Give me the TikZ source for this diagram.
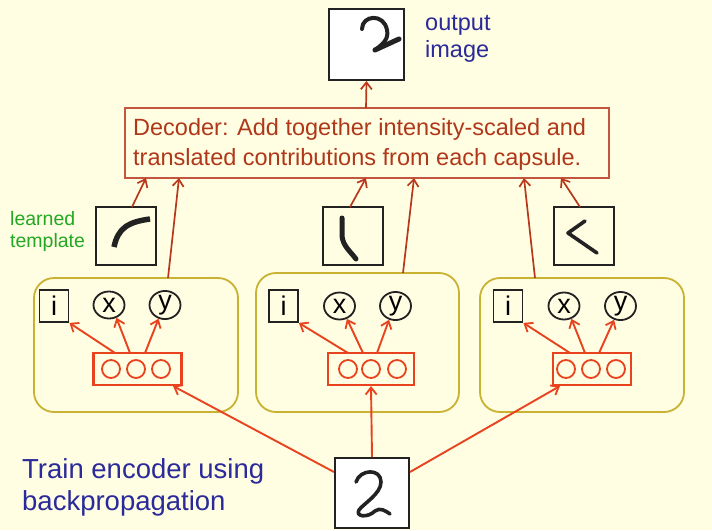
\documentclass[tikz,border=0pt]{standalone}
\usepackage{fontspec}
\setmainfont{Liberation Sans}
\usetikzlibrary{arrows.meta,shapes.geometric}
\definecolor{bg}{HTML}{FFFDE2}
\definecolor{darkred}{HTML}{B8381C}
\definecolor{brightred}{HTML}{E8431E}
\definecolor{gold}{HTML}{C9B232}
\definecolor{txtred}{HTML}{B0381A}
\definecolor{txtblue}{HTML}{2A2A9A}
\definecolor{txtgreen}{HTML}{22A822}
\definecolor{ink}{HTML}{222222}
\begin{document}
\begin{tikzpicture}[x=1pt,y=-1pt,
  outbox/.style={draw=ink,line width=2pt,fill=white,minimum width=75pt,minimum height=71pt,inner sep=0pt},
  tmplbox/.style={draw=ink,line width=2pt,minimum width=60pt,minimum height=58pt,inner sep=0pt},
  decbox/.style={draw=darkred!85,line width=1.2pt,minimum width=484pt,minimum height=70pt,inner sep=0pt},
  capsule/.style={draw=gold,line width=1.8pt,rounded corners=20pt,minimum width=204pt,minimum height=134pt,inner sep=0pt},
  ibox/.style={draw=ink,line width=1.8pt,minimum width=29pt,minimum height=32pt,inner sep=0pt,font=\fontsize{27}{27}\selectfont},
  var/.style={draw=ink,ellipse,line width=1.8pt,minimum width=31pt,minimum height=27pt,inner sep=0pt,font=\fontsize{27}{27}\selectfont},
  unitbox/.style={draw=brightred,line width=2.2pt,minimum width=86pt,minimum height=32pt,inner sep=0pt},
  unit/.style={draw=brightred,circle,line width=1.8pt,minimum size=18pt,inner sep=0pt},
  inarrow/.style={-{Straight Barb[length=7pt,width=11pt,line width=1.8pt]},brightred,line width=1.9pt},
  decarrow/.style={-{Straight Barb[length=7pt,width=11pt,line width=1.7pt]},darkred,line width=1.7pt},
  glyph/.style={ink,line width=4.5pt,line cap=round,line join=round},
  lbl/.style={inner sep=0pt,align=left}
]
\path[use as bounding box,fill=bg] (0,0) rectangle (712,530);

% output image
\node[outbox] (out) at (366.5,44.5) {};
\draw[glyph,line width=4pt] (362,29) .. controls (362,15) and (384,13) .. (387,30) .. controls (389,39) and (383,44) .. (375,50);
\draw[glyph,line width=5pt] (375,50) -- (399,39);
\node[lbl,anchor=north west,text=txtblue,font=\fontsize{23.5}{27}\selectfont] (outlbl) at (425,15) {output\\image};

% decoder
\node[decbox] (dec) at (367,143) {};
\node[lbl,anchor=north west,text=txtred,font=\fontsize{23.5}{30}\selectfont] (dectxt) at (133,118.5)
  {Decoder: Add together intensity-scaled and\\translated contributions from each capsule.};
\coordinate (dtop) at (366,108);
\draw[decarrow] (dtop) -- (out.south);

% templates
\node[tmplbox] (t1) at (126,236) {};
\node[tmplbox] (t2) at (353,236) {};
\node[tmplbox] (t3) at (584,236) {};
\draw[glyph,line width=5.5pt,line cap=butt] (114,247) .. controls (118,228) and (128,222) .. (150,219);
\draw[glyph,line width=5pt] (342,218) -- (342,236) .. controls (343,246) and (350,251) .. (356,259);
\draw[glyph,line width=3.6pt] (585,221) -- (568,233) -- (597,253);
\node[lbl,anchor=north west,text=txtgreen,font=\fontsize{19.5}{22}\selectfont] (tl) at (10,211) {learned\\template};

% capsules
\node[capsule] (c1) at (136,345) {};
\node[capsule,minimum width=203pt,minimum height=139pt] (c2) at (357.5,342.5) {};
\node[capsule] (c3) at (582,345) {};

% capsule contents 1
\node[ibox] (i1) at (54,306) {i\hspace{12pt}};
\node[var] (x1) at (109,305) {x};
\node[var] (y1) at (165,305) {y};
\node[unitbox,minimum width=88pt] (u1) at (137.5,369) {};
\node[unit] at (111,369) {};
\node[unit] at (136,369) {};
\node[unit] at (161,369) {};
% capsule contents 2
\node[ibox] (i2) at (283.5,306) {i\hspace{12pt}};
\node[var] (x2) at (339.5,306) {x};
\node[var] (y2) at (395.5,306) {y};
\node[unitbox] (u2) at (371,369) {};
\node[unit] at (348,369) {};
\node[unit] at (371,369) {};
\node[unit] at (397,369) {};
% capsule contents 3
\node[ibox] (i3) at (508,306) {i\hspace{12pt}};
\node[var] (x3) at (564,306) {x};
\node[var] (y3) at (620.5,306) {y};
\node[unitbox,minimum width=78pt] (u3) at (592,369) {};
\node[unit] at (566,369) {};
\node[unit] at (591,369) {};
\node[unit] at (616,369) {};

% inner arrows
\coordinate (b11) at (115,353); \coordinate (b12) at (130,353); \coordinate (b13) at (145,353);
\coordinate (b21) at (348,353); \coordinate (b22) at (363,353); \coordinate (b23) at (377,353);
\coordinate (b31) at (570,353); \coordinate (b32) at (585,353); \coordinate (b33) at (599,353);
\draw[inarrow] (b11) -- (i1.south east);
\draw[inarrow] (b12) -- (x1.-60);
\draw[inarrow] (b13) -- (y1.-115);
\draw[inarrow] (b21) -- (i2.south east);
\draw[inarrow] (b22) -- (x2.-60);
\draw[inarrow] (b23) -- (y2.-115);
\draw[inarrow] (b31) -- (i3.south east);
\draw[inarrow] (b32) -- (x3.-60);
\draw[inarrow] (b33) -- (y3.-115);

% arrows into decoder
\coordinate (dt1) at (146,178); \coordinate (dt2) at (366,178); \coordinate (dt3) at (561,178);
\coordinate (dc1) at (179,178); \coordinate (dc2) at (414,178); \coordinate (dc3) at (524,178);
\coordinate (tt1) at (132,207); \coordinate (tt2) at (350,207); \coordinate (tt3) at (580,207);
\coordinate (ct1) at (168,278); \coordinate (ct2) at (403,273); \coordinate (ct3) at (535,278);
\draw[decarrow] (tt1) -- (dt1);
\draw[decarrow] (tt2) -- (dt2);
\draw[decarrow] (tt3) -- (dt3);
\draw[decarrow] (ct1) -- (dc1);
\draw[decarrow] (ct2) -- (dc2);
\draw[decarrow] (ct3) -- (dc3);

% input image
\node[outbox,minimum width=74pt,minimum height=70pt] (in) at (372,493) {};
\draw[glyph,line width=3.6pt] (356,482) .. controls (360,469) and (381,468) .. (381,482) .. controls (381,494) and (363,504) .. (359,510) .. controls (355,517) and (368,518) .. (375,511) .. controls (380,507) and (386,511) .. (390,514);
\coordinate (il) at (334,472); \coordinate (ir) at (410,472);
\coordinate (ut1) at (173,386); \coordinate (ut3) at (560,386);
\draw[inarrow] (il) -- (ut1);
\draw[inarrow] (in.north) -- (u2.south);
\draw[inarrow] (ir) -- (ut3);

\node[lbl,anchor=north west,text=txtblue,font=\fontsize{27.5}{32}\selectfont] (train) at (22,458) {Train encoder using\\backpropagation};
\end{tikzpicture}
\end{document}
